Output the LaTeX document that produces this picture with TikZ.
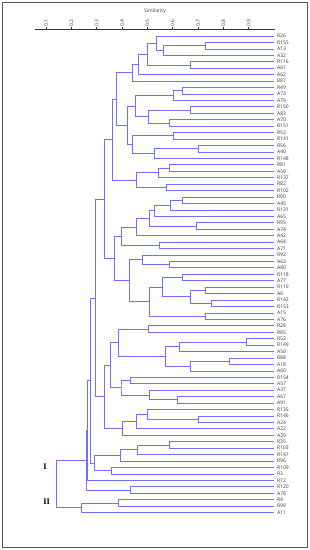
\documentclass[tikz,border=0pt]{standalone}
\usepackage{fontspec}
\setmainfont{Open Sans}
\newfontfamily\grpfont{Liberation Serif}
\usetikzlibrary{calc}

\definecolor{dendblue}{RGB}{112,112,255}
\definecolor{labgray}{RGB}{55,55,55}
\tikzset{
  dend/.style={color=dendblue,line width=0.75pt},
  leaf/.style={anchor=west,inner sep=2.6pt,font=\fontsize{5}{5}\selectfont,text=labgray},
  ticklab/.style={font=\fontsize{5}{5}\selectfont,text=labgray,rotate=90,inner sep=0pt},
  grp/.style={font=\grpfont\bfseries\fontsize{8.5}{8.5}\selectfont,inner sep=0pt},
}
% join two clusters at similarity #2
\newcommand\mrg[4]{%
  \path let \p1=(#3),\p2=(#4) in coordinate (#1) at ({20.7+253.3*#2},{0.5*\y1+0.5*\y2});
  \draw[dend] (#3) -| (#1) |- (#4);}

\begin{document}
\begin{tikzpicture}[x=1pt,y=-1pt]
  \useasboundingbox (0,0) rectangle (310,550);
  \draw[gray!70!black,line width=0.8pt] (2.6,2.6) rectangle (307.2,547.2);

  \foreach \lab [count=\i] in {R26,R155,A13,A32,R116,A61,A62,R87,R49,A73,A79,R150,A83,A70,R151,R53,R141,R56,A40,R148,R81,A59,R137,R82,R102,R90,A45,R131,A65,R95,A74,A42,A64,A71,R92,A63,A80,R118,A77,R119,A6,R142,R153,A15,A76,R28,R85,R52,R149,A50,R88,A18,A60,R154,A57,A37,A67,A91,R135,R146,A24,A22,A29,R35,R103,R147,R96,R109,R3,R72,R120,A78,R4,R98,A11}
    \node[leaf] (\lab) at (274.3,{36+(\i-1)*6.44}) {\lab};

  \mrg{m1}{0.730}{R155}{A13}
  \mrg{m2}{0.563}{m1}{A32}
  \mrg{m3}{0.534}{R26}{m2}
  \mrg{m4}{0.670}{R116}{A61}
  \mrg{m5}{0.500}{m3}{m4}
  \mrg{m6}{0.463}{m5}{A62}
  \mrg{m7}{0.441}{m6}{R87}
  \mrg{m8}{0.640}{R49}{A73}
  \mrg{m9}{0.601}{m8}{A79}
  \mrg{m10}{0.670}{R150}{A83}
  \mrg{m11}{0.587}{A70}{R151}
  \mrg{m12}{0.505}{m10}{m11}
  \mrg{m13}{0.451}{m9}{m12}
  \mrg{m14}{0.604}{R53}{R141}
  \mrg{m15}{0.703}{R56}{A40}
  \mrg{m16}{0.528}{m15}{R148}
  \mrg{m17}{0.440}{m14}{m16}
  \mrg{m18}{0.421}{m13}{m17}
  \mrg{m19}{0.379}{m7}{m18}
  \mrg{m20}{0.586}{R81}{A59}
  \mrg{m21}{0.543}{m20}{R137}
  \mrg{m22}{0.574}{R82}{R102}
  \mrg{m23}{0.455}{m21}{m22}
  \mrg{m24}{0.363}{m19}{m23}
  \mrg{m25}{0.640}{R90}{A45}
  \mrg{m26}{0.590}{m25}{R131}
  \mrg{m27}{0.528}{m26}{A65}
  \mrg{m28}{0.694}{R95}{A74}
  \mrg{m29}{0.507}{m27}{m28}
  \mrg{m30}{0.458}{m29}{A42}
  \mrg{m31}{0.547}{A64}{A71}
  \mrg{m32}{0.399}{m30}{m31}
  \mrg{m33}{0.586}{A63}{A80}
  \mrg{m34}{0.482}{R92}{m33}
  \mrg{m35}{0.640}{R118}{A77}
  \mrg{m36}{0.730}{R119}{A6}
  \mrg{m37}{0.753}{R142}{R153}
  \mrg{m38}{0.671}{m36}{m37}
  \mrg{m39}{0.559}{m35}{m38}
  \mrg{m40}{0.730}{A15}{A76}
  \mrg{m41}{0.508}{m39}{m40}
  \mrg{m42}{0.429}{m34}{m41}
  \mrg{m43}{0.368}{m32}{m42}
  \mrg{m44}{0.330}{m24}{m43}
  \mrg{m45}{0.503}{R28}{R85}
  \mrg{m46}{0.892}{R52}{R149}
  \mrg{m47}{0.626}{m46}{A50}
  \mrg{m48}{0.822}{R88}{A18}
  \mrg{m49}{0.670}{m48}{A60}
  \mrg{m50}{0.573}{m47}{m49}
  \mrg{m51}{0.385}{m45}{m50}
  \mrg{m52}{0.432}{R154}{A57}
  \mrg{m53}{0.618}{A67}{A91}
  \mrg{m54}{0.508}{A37}{m53}
  \mrg{m55}{0.396}{m52}{m54}
  \mrg{m56}{0.355}{m51}{m55}
  \mrg{m57}{0.703}{R146}{A24}
  \mrg{m58}{0.501}{R135}{m57}
  \mrg{m59}{0.455}{m58}{A22}
  \mrg{m60}{0.403}{m59}{A29}
  \mrg{m61}{0.330}{m56}{m60}
  \mrg{m62}{0.294}{m44}{m61}
  \mrg{m63}{0.586}{R35}{R103}
  \mrg{m64}{0.460}{m63}{R147}
  \mrg{m65}{0.393}{m64}{R96}
  \mrg{m66}{0.359}{R109}{R3}
  \mrg{m67}{0.291}{m65}{m66}
  \mrg{m68}{0.274}{m62}{m67}
  \mrg{m69}{0.264}{m68}{R72}
  \mrg{m70}{0.432}{R120}{A78}
  \mrg{m71}{0.258}{m69}{m70}
  \mrg{m72}{0.385}{R4}{R98}
  \mrg{m73}{0.241}{m72}{A11}
  \mrg{root}{0.139}{m71}{m73}

  % axis
  \node[font=\fontsize{5}{5}\selectfont,text=labgray] (simlab) at (155,10.8) {Similarity};
  \draw[labgray,line width=0.5pt] (34.7,29.3) coordinate (axl) -- (275.3,29.3) coordinate (axr);
  \foreach \s in {0.1,0.2,0.3,0.4,0.5,0.6,0.7,0.8,0.9}{
    \draw[labgray,line width=0.5pt] ({20.7+253.3*\s},29.3) -- ++(0,-2);
    \node[ticklab] at ({20.7+253.3*\s},23) {\s};
  }

  \node[grp] (gI) at (45,466.7) {I};
  \node[grp] (gII) at (46.7,502) {II};
\end{tikzpicture}
\end{document}
